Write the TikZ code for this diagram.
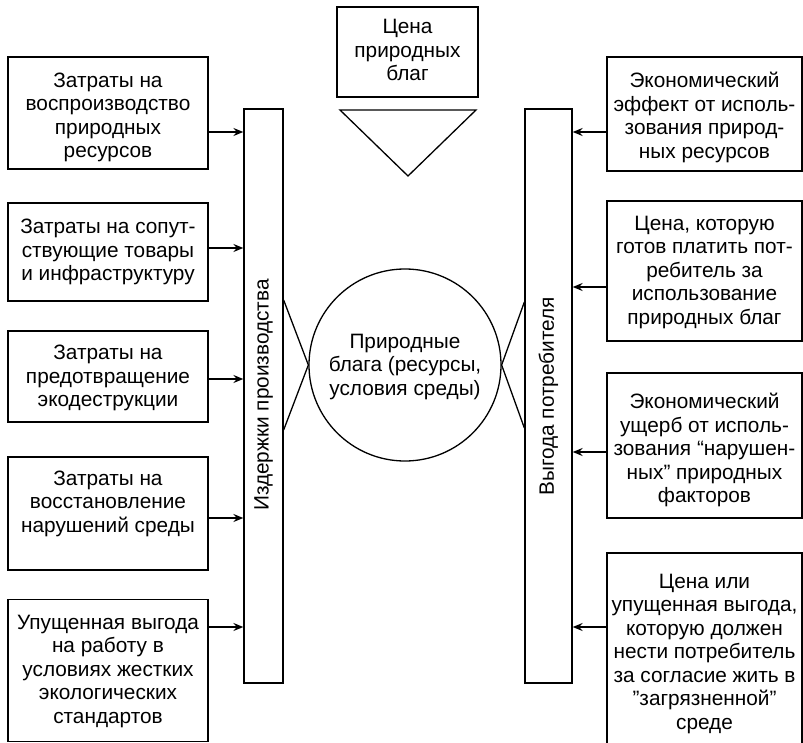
\documentclass[tikz,border=0pt]{standalone}
\usepackage{fontspec}
\setmainfont{Liberation Sans}
\usetikzlibrary{arrows.meta,calc}
\begin{document}
\begin{tikzpicture}[x=1pt,y=-1pt,
  line width=1.3pt,
  box/.style={draw,rectangle,inner sep=0pt,minimum width=#1},
  bar/.style={draw,rectangle,inner sep=0pt},
  txt/.style={align=center,inner sep=0pt,font=\fontsize{20.8}{23.5}\selectfont},
  arr/.style={-{Stealth[length=10pt,width=8pt,inset=3.5pt]}}]
\useasboundingbox (0,0) rectangle (803,743);
% left boxes
\node[box=200,minimum height=112] (L1) at (108,113) {};
\node[txt] (L1t) at (108,117.5) {Затраты на\\воспроизводство\\природных\\ресурсов};
\node[box=200,minimum height=98] (L2) at (108,252) {};
\node[txt] (L2t) at (108,252) {Затраты на сопут-\\ствующие товары\\и инфраструктуру};
\node[box=200,minimum height=91] (L3) at (108,376.5) {};
\node[txt] (L3t) at (108,378) {Затраты на\\предотвращение\\экодеструкции};
\node[box=200,minimum height=113] (L4) at (108,513.5) {};
\node[txt] (L4t) at (108,503.7) {Затраты на\\восстановление\\нарушений среды};
\node[box=200,minimum height=142] (L5) at (108,670.5) {};
\node[txt] (L5t) at (108,671) {Упущенная выгода\\на работу в\\условиях жестких\\экологических\\стандартов};
% bars
\node[bar,minimum width=39,minimum height=574] (Lbar) at (263.5,396) {};
\node[txt,rotate=90] (Lbart) at (263.5,395) {Издержки производства};
\node[bar,minimum width=47,minimum height=574] (Rbar) at (548.5,396) {};
\node[txt,rotate=90] (Rbart) at (548.5,396.5) {Выгода потребителя};
% right boxes
\node[box=195,minimum height=114] (R1) at (704.5,114) {};
\node[txt] (R1t) at (704.5,117.5) {Экономический\\эффект от исполь-\\зования природ-\\ных ресурсов};
\node[box=195,minimum height=140] (R2) at (704.5,271) {};
\node[txt] (R2t) at (704.5,272.5) {Цена, которую\\готов платить пот-\\ребитель за\\использование\\природных благ};
\node[box=195,minimum height=145] (R3) at (704.5,445.5) {};
\node[txt] (R3t) at (704.5,450) {Экономический\\ущерб от исполь-\\зования “нарушен-\\ных” природных\\факторов};
\node[box=195,minimum height=200] (R4) at (704.5,653) {};
\node[txt] (R4t) at (704.5,653.5) {Цена или\\упущенная выгода,\\которую должен\\нести потребитель\\за согласие жить в\\”загрязненной”\\среде};
% top
\node[box=141,minimum height=90] (T) at (407.5,52) {};
\node[txt] (Tt) at (407.5,50) {Цена\\природных\\благ};
\draw (340,110) -- (476,110) -- (408,176) -- cycle;
% circle
\node[draw,circle,minimum size=192,inner sep=0pt] (C) at (405,365) {};
\node[txt] (Ct) at (405,367) {Природные\\блага (ресурсы,\\условия среды)};
\coordinate (cu) at ([yshift=65pt]C.west);
\coordinate (cd) at ([yshift=-65pt]C.west);
\draw (cu -| Lbar.east) -- (C.west) -- (cd -| Lbar.east);
\coordinate (ru) at ([yshift=63pt]C.east);
\coordinate (rd) at ([yshift=-63pt]C.east);
\draw (ru -| Rbar.west) -- (C.east) -- (rd -| Rbar.west);
% left arrows
\coordinate (a1) at ([yshift=-19pt]L1.east);
\draw[arr] (a1) -- (a1 -| Lbar.west);
\coordinate (a2) at ([yshift=4pt]L2.east);
\draw[arr] (a2) -- (a2 -| Lbar.west);
\coordinate (a3) at ([yshift=-2.5pt]L3.east);
\draw[arr] (a3) -- (a3 -| Lbar.west);
\coordinate (a4) at ([yshift=-4.5pt]L4.east);
\draw[arr] (a4) -- (a4 -| Lbar.west);
\coordinate (a5) at ([yshift=43.5pt]L5.east);
\draw[arr] (a5) -- (a5 -| Lbar.west);
% right arrows
\coordinate (b1) at ([yshift=-18pt]R1.west);
\draw[arr] (b1) -- (b1 -| Rbar.east);
\coordinate (b2) at ([yshift=-16pt]R2.west);
\draw[arr] (b2) -- (b2 -| Rbar.east);
\coordinate (b3) at ([yshift=-6.5pt]R3.west);
\draw[arr] (b3) -- (b3 -| Rbar.east);
\coordinate (b4) at ([yshift=26pt]R4.west);
\draw[arr] (b4) -- (b4 -| Rbar.east);
\end{tikzpicture}
\end{document}
